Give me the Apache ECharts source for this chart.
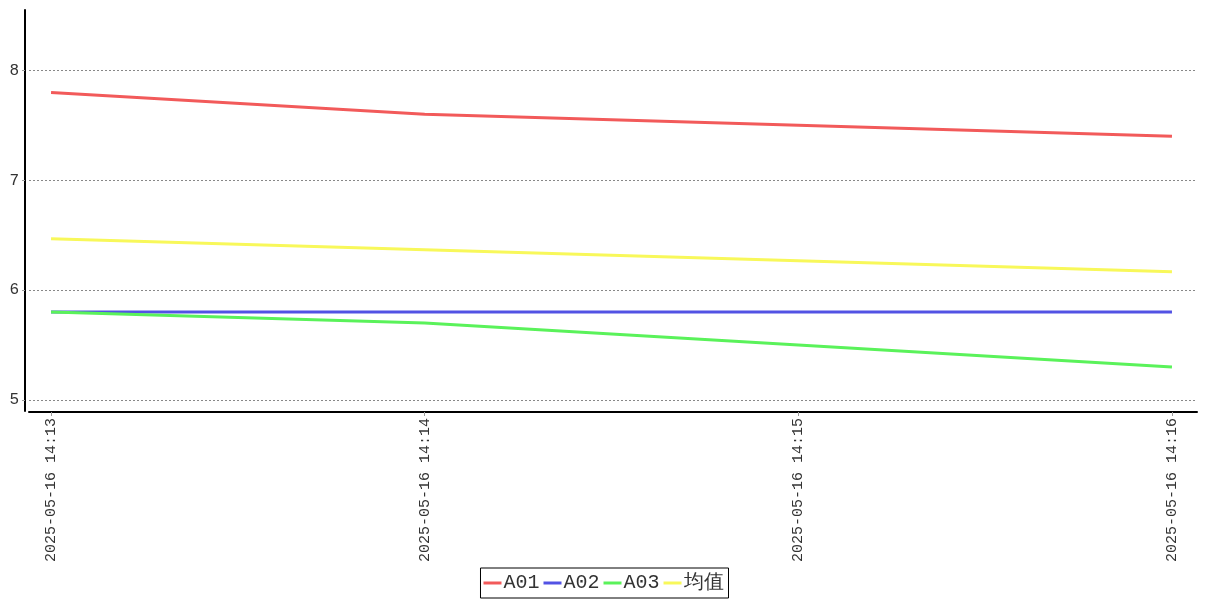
<!DOCTYPE html>
<html><head><meta charset="utf-8">
<script src="https://cdn.jsdelivr.net/npm/echarts@6/dist/echarts.min.js"></script>
<style>html,body{margin:0;padding:0;background:#fff}#c{width:1207px;height:600px}</style>
</head><body><div id="c"></div>
<script>
const times = ['2025-05-16 14:13', '2025-05-16 14:14', '2025-05-16 14:15', '2025-05-16 14:16'];
const seriesNames = ['A01', 'A02', 'A03', '均值'];
const a01 = [7.8, 7.6, 7.5, 7.4];
const a02 = [5.8, 5.8, 5.8, 5.8];
const a03 = [5.8, 5.7, 5.5, 5.3];
const avg = [6.467, 6.367, 6.267, 6.167];
const yTicks = [5, 6, 7, 8];
const colors = ['#F25A5A', '#5252E4', '#5AF25A', '#F8F85A'];

// x positions in minutes from the first time stamp
const xs = times.map((t, i) => i);
const allData = [a01, a02, a03, avg];
const font = 'Liberation Mono';

const chart = echarts.init(document.getElementById('c'), null, {renderer: 'canvas'});
chart.setOption({
  animation: false,
  color: colors,
  grid: {left: 29, right: 10, top: 10, bottom: 189, containLabel: false},
  legend: {
    bottom: 2, left: 'center',
    data: seriesNames,
    icon: 'rect', itemWidth: 18, itemHeight: 3, itemGap: 4,
    borderColor: '#000', borderWidth: 1, padding: [5, 5, 5, 3],
    textStyle: {fontFamily: font, fontSize: 20, color: '#333', padding: [0, 0, 0, -3]}
  },
  xAxis: {
    type: 'value',
    min: -0.059, max: 3.067,
    offset: 1,
    axisLine: {onZero: false, lineStyle: {color: '#000', width: 2}},
    axisTick: {show: true, customValues: xs, length: 4, lineStyle: {color: '#999'}},
    axisLabel: {customValues: xs, rotate: 90, formatter: (v) => times[Math.round(v)], fontFamily: font, fontSize: 15, color: '#333', margin: 6},
    splitLine: {show: false}
  },
  yAxis: {
    type: 'value',
    min: 4.9, max: 8.55,
    offset: 4,
    axisLine: {show: true, onZero: false, lineStyle: {color: '#000', width: 2}},
    axisTick: {show: true, customValues: yTicks, length: 3, lineStyle: {color: '#999'}},
    axisLabel: {customValues: yTicks, fontFamily: font, fontSize: 16, color: '#333', margin: 6},
    splitLine: {show: true, lineStyle: {color: '#888', type: [2, 2], width: 1}}
  },
  series: seriesNames.map((n, i) => ({
    name: n, type: 'line', showSymbol: false, symbol: 'none',
    lineStyle: {width: 3},
    data: xs.map((x, j) => [x, allData[i][j]])
  }))
});
</script></body></html>
